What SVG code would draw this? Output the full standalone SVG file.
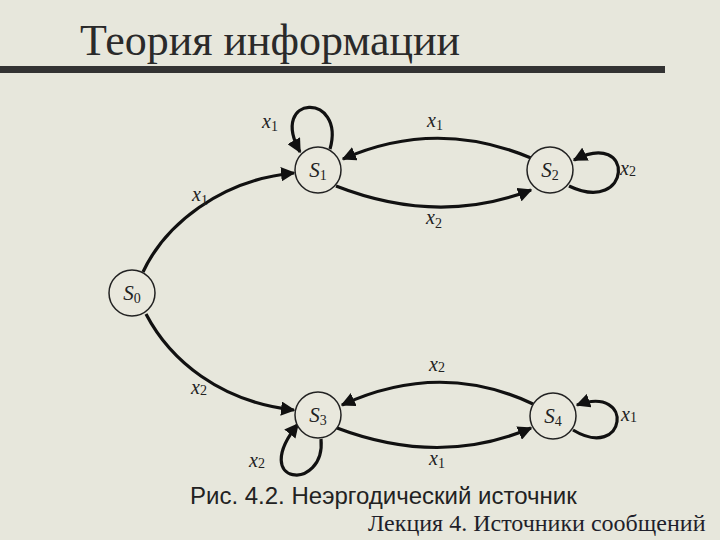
<svg xmlns="http://www.w3.org/2000/svg" width="720" height="540" viewBox="0 0 720 540">
<defs>
<marker id="arr" viewBox="0 0 10 10" refX="9" refY="5" markerWidth="4.5" markerHeight="4.5" orient="auto" markerUnits="strokeWidth">
<path d="M0,0 L10,5 L0,10 z" fill="#111"/>
</marker>
<style>
.edge{fill:none;stroke:#111;stroke-width:3.2;marker-end:url(#arr)}
.node circle{fill:#e9e8dd;stroke:#222;stroke-width:1.5}
.lbl{font-family:"Liberation Serif","Times New Roman","DejaVu Serif",serif;font-style:italic;font-size:20px;fill:#222}
.sub{font-size:14px;font-style:normal}
.nl{font-family:"Liberation Serif","Times New Roman","DejaVu Serif",serif;font-style:italic;font-size:21px;fill:#222;text-anchor:middle}
.title{font-family:"Liberation Serif","Times New Roman","DejaVu Serif",serif;font-size:44px;font-weight:normal;fill:#2a2a2a}
.cap{font-family:"Liberation Sans",Arial,sans-serif;font-size:24px;fill:#222}
.foot{font-family:"Liberation Serif","Times New Roman",serif;font-size:24px;fill:#1f1f2a}
</style>
</defs>
<rect width="720" height="540" fill="#e7e7dc"/>
<text class="title" x="80" y="55">Теория информации</text>
<rect x="0" y="66" width="665" height="7" fill="#333"/>
<g id="connectors">
<path class="edge" d="M531,158 Q436,118 343,159"/>
<path class="edge" d="M336,186 Q438,226 531,190"/>
<path class="edge" d="M330,149 C346,92 268,94 300,152"/>
<path class="edge" d="M569,186 C632,216 636,128 574,160"/>
<path class="edge" d="M143,272 C165,225 220,180 294,173"/>
<path class="edge" d="M146,314 C170,360 220,402 294,410"/>
<path class="edge" d="M533,404 Q440,360 342,405"/>
<path class="edge" d="M337,428 Q440,467 531,428"/>
<path class="edge" d="M321,439 C326,492 248,486 298,424"/>
<path class="edge" d="M573,430 C626,462 636,384 577,405"/>
</g>
<g class="labels">
<text class="lbl" x="262" y="128">x<tspan class="sub" dy="3">1</tspan></text>
<text class="lbl" x="427" y="127">x<tspan class="sub" dy="3">1</tspan></text>
<text class="lbl" x="620" y="175">x<tspan class="sub" dy="1">2</tspan></text>
<text class="lbl" x="426" y="224">x<tspan class="sub" dy="4">2</tspan></text>
<text class="lbl" x="192" y="201">x<tspan class="sub" dy="4">1</tspan></text>
<text class="lbl" x="191" y="394">x<tspan class="sub" dy="1">2</tspan></text>
<text class="lbl" x="429" y="371">x<tspan class="sub" dy="1">2</tspan></text>
<text class="lbl" x="621" y="421">x<tspan class="sub" dy="1">1</tspan></text>
<text class="lbl" x="249" y="467">x<tspan class="sub" dy="1">2</tspan></text>
<text class="lbl" x="429" y="465">x<tspan class="sub" dy="3">1</tspan></text>
</g>
<g id="S0" class="node"><circle cx="132" cy="293" r="23"/><text class="nl" x="132" y="300">S<tspan class="sub" dy="3">0</tspan></text></g>
<g id="S1" class="node"><circle cx="318" cy="170" r="23"/><text class="nl" x="318" y="177">S<tspan class="sub" dy="3">1</tspan></text></g>
<g id="S2" class="node"><circle cx="550" cy="170" r="23"/><text class="nl" x="550" y="177">S<tspan class="sub" dy="3">2</tspan></text></g>
<g id="S3" class="node"><circle cx="318" cy="415" r="23"/><text class="nl" x="318" y="422">S<tspan class="sub" dy="3">3</tspan></text></g>
<g id="S4" class="node"><circle cx="553" cy="416" r="23"/><text class="nl" x="553" y="423">S<tspan class="sub" dy="3">4</tspan></text></g>
<text class="cap" x="190" y="504">Рис. 4.2. Неэргодический источник</text>
<text class="foot" x="368" y="531">Лекция 4. Источники сообщений</text>
</svg>
